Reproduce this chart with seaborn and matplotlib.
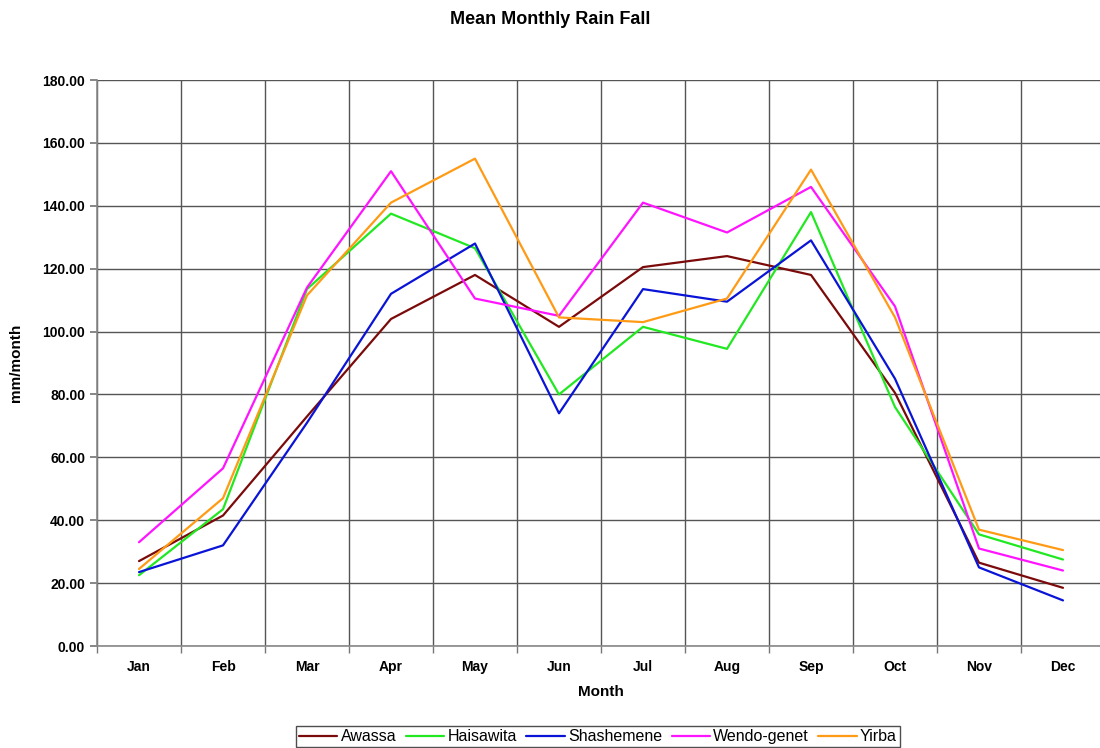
import pandas as pd
import matplotlib.pyplot as plt
import seaborn as sns
from matplotlib.ticker import FixedLocator

MONTHS = ["Jan", "Feb", "Mar", "Apr", "May", "Jun", "Jul", "Aug", "Sep", "Oct", "Nov", "Dec"]

AWASSA = [27.0, 41.5, 73.0, 104.0, 118.0, 101.5, 120.5, 124.0, 118.0, 80.5, 26.5, 18.5]
HAISAWITA = [22.5, 43.5, 113.5, 137.5, 126.5, 80.0, 101.5, 94.5, 138.0, 76.0, 35.5, 27.5]
SHASHEMENE = [23.5, 32.0, 71.0, 112.0, 128.0, 74.0, 113.5, 109.5, 129.0, 85.0, 25.0, 14.5]
WENDO_GENET = [33.0, 56.5, 114.0, 151.0, 110.5, 105.0, 141.0, 131.5, 146.0, 108.0, 31.0, 24.0]
YIRBA = [24.5, 47.0, 111.5, 141.0, 155.0, 104.5, 103.0, 110.5, 151.5, 104.5, 37.0, 30.5]

STATIONS = ["Awassa", "Haisawita", "Shashemene", "Wendo-genet", "Yirba"]
COLORS = ["#7b0a0a", "#22e822", "#0a14d6", "#ff14ff", "#ff9a14"]

sns.set_theme(style="white")
plt.rcParams["font.family"] = ["Liberation Sans", "DejaVu Sans"]
plt.rcParams["text.color"] = "black"
plt.rcParams["axes.labelcolor"] = "black"
plt.rcParams["xtick.color"] = "black"
plt.rcParams["ytick.color"] = "black"

rows = []
for name, vals in zip(STATIONS, [AWASSA, HAISAWITA, SHASHEMENE, WENDO_GENET, YIRBA]):
    for i, v in enumerate(vals):
        rows.append({"station": name, "idx": i, "rain": v})
df = pd.DataFrame(rows)

fig = plt.figure(figsize=(11, 7.48), dpi=100)
ax = fig.add_axes([97 / 1100, 102 / 748, 1008 / 1100, 566 / 748])

sns.lineplot(
    data=df, x="idx", y="rain", hue="station", hue_order=STATIONS,
    palette=COLORS, linewidth=1.6, ax=ax, legend=False,
)

ax.set_xlim(-0.5, 11.5)
ax.set_ylim(0, 180)
ax.set_yticks(range(0, 181, 20))
ax.set_yticklabels([f"{v:.2f}" for v in range(0, 181, 20)], fontweight="bold", fontsize=10)
ax.set_xticks(range(12))
ax.set_xticklabels(MONTHS, fontweight="bold", fontsize=10)
ax.xaxis.set_minor_locator(FixedLocator([i + 0.5 for i in range(-1, 12)]))

ax.tick_params(axis="x", which="major", length=0, pad=10)
ax.tick_params(axis="x", which="minor", length=5, bottom=True, color="#777777")
ax.tick_params(axis="y", length=5, left=True, color="#777777")

ax.grid(True, axis="y", which="major", color="#555555", linewidth=1)
ax.grid(True, axis="x", which="minor", color="#555555", linewidth=1)
ax.grid(False, axis="x", which="major")
ax.set_axisbelow(True)
for s in ["top", "right"]:
    ax.spines[s].set_visible(False)
for s in ["left", "bottom"]:
    ax.spines[s].set_color("#888888")
    ax.spines[s].set_linewidth(1.2)

ax.set_xlabel("Month", fontweight="bold", fontsize=11, labelpad=8)
ax.set_ylabel("mm/month", fontweight="bold", fontsize=11, labelpad=14)

fig.text(0.5, 1 - 20 / 748, "Mean Monthly Rain Fall", ha="center", va="center",
         fontweight="bold", fontsize=13)

handles = [plt.Line2D([], [], color=c, linewidth=1.6) for c in COLORS]
leg = fig.legend(
    handles, STATIONS, loc="upper center", bbox_to_anchor=(598 / 1100, 1 - 726 / 748),
    ncol=5, frameon=True, fancybox=False, fontsize=11.5, handlelength=2.4,
    handletextpad=0.2, columnspacing=0.6, borderpad=0.2, borderaxespad=0,
)
leg.get_frame().set_edgecolor("#222222")
leg.get_frame().set_linewidth(1)

fig.savefig("out.png", dpi=100)
